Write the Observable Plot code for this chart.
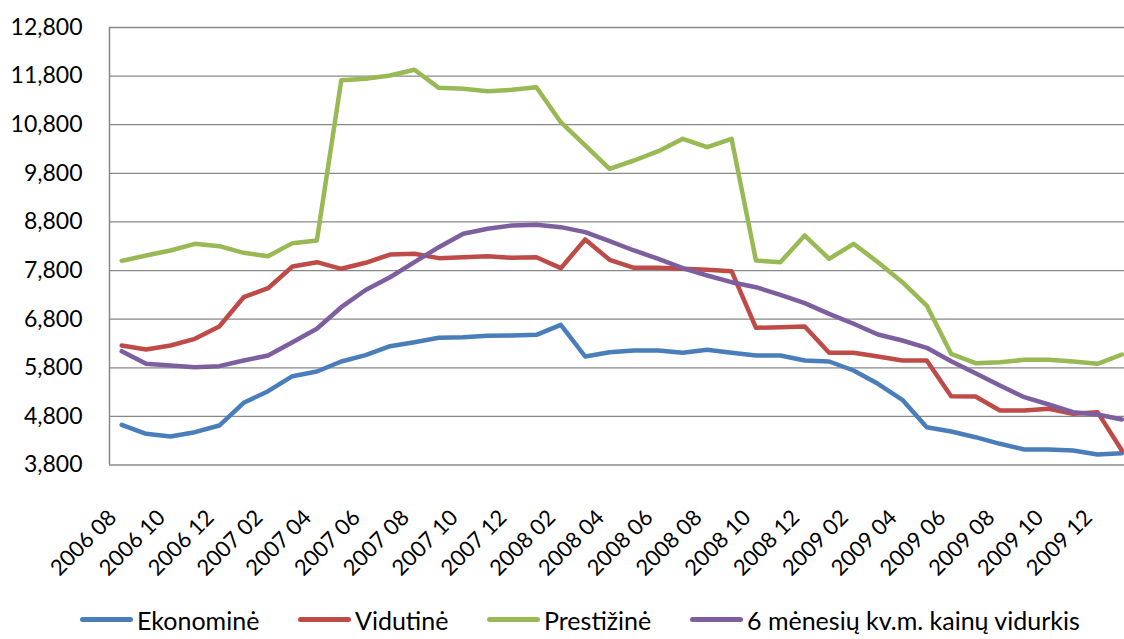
<!DOCTYPE html>
<html>
<head>
<meta charset="utf-8">
<script src="https://cdn.jsdelivr.net/npm/d3@7"></script>
<script src="https://cdn.jsdelivr.net/npm/@observablehq/plot@0.6"></script>
<style>
  html, body { margin: 0; padding: 0; background: #fff; }
  body { width: 1124px; height: 639px; overflow: hidden; font-family: Lato, "Open Sans", sans-serif; }
  #legend { position: relative; height: 39px; width: 1124px; }
  .item { position: absolute; top: 0; height: 39px; display: flex; align-items: center; font-size: 25px; color: #000; white-space: nowrap; }
  .swatch { display: inline-block; width: 53px; height: 5px; border-radius: 3px; margin-right: 4px; }
</style>
</head>
<body>
<div id="chart"></div>
<div id="legend"></div>
<script>
const months = ["2006 08","2006 09","2006 10","2006 11","2006 12","2007 01","2007 02","2007 03","2007 04","2007 05","2007 06","2007 07","2007 08","2007 09","2007 10","2007 11","2007 12","2008 01","2008 02","2008 03","2008 04","2008 05","2008 06","2008 07","2008 08","2008 09","2008 10","2008 11","2008 12","2009 01","2009 02","2009 03","2009 04","2009 05","2009 06","2009 07","2009 08","2009 09","2009 10","2009 11","2009 12","2010 01"];

const ekonomine = [4627,4442,4386,4475,4612,5080,5318,5627,5723,5929,6060,6244,6327,6416,6429,6457,6464,6478,6684,6032,6121,6156,6156,6108,6170,6108,6053,6053,5950,5929,5744,5470,5141,4578,4489,4372,4236,4119,4119,4098,4016,4043];
const vidutine = [6258,6176,6258,6396,6649,7252,7437,7884,7972,7836,7960,8130,8145,8055,8075,8096,8062,8075,7849,8439,8021,7857,7857,7836,7815,7787,6622,6636,6649,6108,6108,6032,5950,5950,5216,5209,4921,4921,4956,4853,4887,4098];
const prestizine = [8000,8110,8213,8350,8301,8165,8096,8364,8418,11713,11745,11813,11930,11559,11539,11490,11518,11572,10852,10373,9893,10064,10255,10510,10339,10510,8007,7972,8521,8041,8350,7972,7561,7081,6088,5894,5915,5964,5964,5929,5882,6073];
const vidurkis = [6141,5882,5847,5812,5833,5950,6053,6327,6602,7046,7400,7663,7972,8281,8556,8659,8727,8741,8693,8590,8405,8213,8041,7849,7698,7561,7458,7301,7129,6910,6705,6485,6361,6211,5935,5688,5435,5195,5045,4887,4839,4736];

const seriesNames = ["Ekonominė", "Vidutinė", "Prestižinė", "6 mėnesių kv.m. kainų vidurkis"];
const seriesValues = [ekonomine, vidutine, prestizine, vidurkis];
const seriesColors = ["#4A7EBB", "#BE4B48", "#98B954", "#7D5FA0"];

const yTicks = [3800, 4800, 5800, 6800, 7800, 8800, 9800, 10800, 11800, 12800];
const xTickIdx = months.map((m, i) => i).filter(i => i % 2 === 0);

const fontFamily = "Lato, 'Open Sans', sans-serif";

const lineMarks = seriesValues.map((vals, s) =>
  Plot.line(vals.map((v, i) => ({i, v})), {
    x: "i", y: "v", stroke: seriesColors[s], strokeWidth: 4.5,
    strokeLinejoin: "round", strokeLinecap: "round"
  })
);

const chart = Plot.plot({
  width: 1124,
  height: 600,
  marginLeft: 109,
  marginRight: 0,
  marginTop: 27,
  marginBottom: 135.5,
  style: {fontFamily, fontSize: "23px", color: "#000", background: "#fff"},
  x: {type: "linear", domain: [-0.5, 41.5], range: [109, 1133.6], label: null},
  y: {domain: [3800, 12800], label: null},
  marks: [
    Plot.ruleY(yTicks, {stroke: "#888", strokeWidth: 1.3}),
    Plot.ruleX([-0.5], {stroke: "#888", strokeWidth: 1.5}),
    ...lineMarks,
    Plot.axisY(yTicks, {tickSize: 0, tickPadding: 27, tickFormat: d3.format(","), fontSize: 23, fill: "#000", label: null}),
    Plot.axisX(xTickIdx, {tickSize: 0, tickRotate: -45, tickPadding: 49, dx: -9, tickFormat: i => months[i], fontSize: 22, fill: "#000", label: null})
  ]
});
document.getElementById("chart").appendChild(chart);

const legendPos = [80, 298, 487, 690];
const legend = document.getElementById("legend");
seriesNames.forEach((name, s) => {
  const item = document.createElement("div");
  item.className = "item";
  item.style.left = legendPos[s] + "px";
  const sw = document.createElement("span");
  sw.className = "swatch";
  sw.style.background = seriesColors[s];
  item.appendChild(sw);
  item.appendChild(document.createTextNode(name));
  legend.appendChild(item);
});
</script>
</body>
</html>
